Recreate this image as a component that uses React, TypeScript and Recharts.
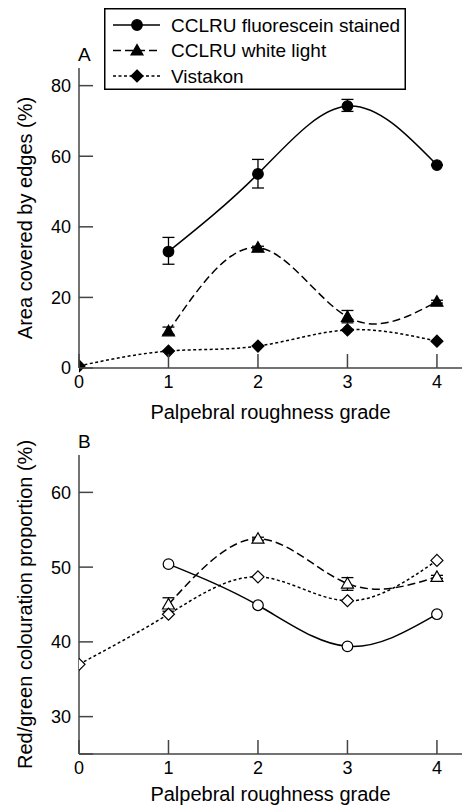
import { LineChart, Line, XAxis, YAxis, ErrorBar, Legend, Label, Customized } from "recharts"

const grades = [0, 1, 2, 3, 4]
const gradeTicks = [0, 1, 2, 3, 4]

// panel A: area covered by edges (%)
const areaFluor = [null, 33.0, 55.0, 74.2, 57.5]
const areaFluorErr = [null, [3.6, 4.0], [4.0, 4.1], [1.5, 1.9], [0, 0]]
const areaWhite = [null, 10.4, 34.1, 14.5, 18.8]
const areaWhiteErr = [null, [0.9, 1.2], [0.4, 0.4], [1.7, 1.8], [0.4, 0.4]]
const areaVista = [0.6, 4.8, 6.2, 10.8, 7.6]
const areaTicks = [0, 20, 40, 60, 80]

// panel B: red/green colouration proportion (%)
const rgFluor = [null, 50.4, 44.9, 39.4, 43.7]
const rgWhite = [null, 45.0, 53.8, 47.8, 48.7]
const rgWhiteErr = [null, [0.9, 0.9], [0.2, 0.2], [0.9, 0.8], [0.2, 0.2]]
const rgVista = [37.0, 43.7, 48.7, 45.5, 50.9]
const rgTicks = [25, 30, 40, 50, 60]

const seriesNames = ["CCLRU fluorescein stained", "CCLRU white light", "Vistakon"]

const dataA = grades.map((g, i) => ({
  grade: g,
  fluor: areaFluor[i],
  fluorErr: areaFluorErr[i],
  white: areaWhite[i],
  whiteErr: areaWhiteErr[i],
  vista: areaVista[i],
}))

const dataB = grades.map((g, i) => ({
  grade: g,
  fluor: rgFluor[i],
  white: rgWhite[i],
  whiteErr: rgWhiteErr[i],
  vista: rgVista[i],
}))

const FONT = "'Liberation Sans', Arial, sans-serif"
const AXIS = "#444"
const INK = "#000"
const DASH = { solid: undefined, dashed: "8 4", dotted: "3 2.5" }

function Marker({ cx, cy, shape, filled }: any) {
  if (cx == null || cy == null) return null
  const fill = filled ? INK : "#fff"
  if (shape === "circle") {
    return <circle cx={cx} cy={cy} r={5.3} fill={fill} stroke={INK} strokeWidth={1.2} />
  }
  if (shape === "triangle") {
    const s = 6
    return (
      <polygon
        points={`${cx},${cy - s} ${cx - s},${cy + s * 0.75} ${cx + s},${cy + s * 0.75}`}
        fill={fill}
        stroke={INK}
        strokeWidth={1.2}
      />
    )
  }
  const d = 6
  return (
    <polygon
      points={`${cx},${cy - d} ${cx + d},${cy} ${cx},${cy + d} ${cx - d},${cy}`}
      fill={fill}
      stroke={INK}
      strokeWidth={1.2}
    />
  )
}

const dotFor = (shape: string, filled: boolean) => (p: any) =>
  <Marker key={`${shape}-${p.index}`} cx={p.cx} cy={p.cy} shape={shape} filled={filled} />

const YTick = (props: any) => {
  const { x, y, payload, hideVal } = props
  return (
    <g>
      <line x1={x} x2={x + 14} y1={y} y2={y} stroke={AXIS} strokeWidth={1.5} />
      {payload.value !== hideVal && (
        <text x={x - 8} y={y} dy="0.36em" textAnchor="end" fontSize={18} fontFamily={FONT} fill={INK}>
          {payload.value}
        </text>
      )}
    </g>
  )
}

const XTick = (props: any) => {
  const { x, y, payload } = props
  return (
    <g>
      <line x1={x} x2={x} y1={y} y2={y - 14} stroke={AXIS} strokeWidth={1.5} />
      <text x={x} y={y + 20} textAnchor="middle" fontSize={18} fontFamily={FONT} fill={INK}>
        {payload.value}
      </text>
    </g>
  )
}

function LegendBox() {
  const rows = [
    { name: seriesNames[0], dash: DASH.solid, shape: "circle" },
    { name: seriesNames[1], dash: DASH.dashed, shape: "triangle" },
    { name: seriesNames[2], dash: DASH.dotted, shape: "diamond" },
  ]
  return (
    <svg width={302} height={82} style={{ display: "block" }}>
      <rect x={0.75} y={0.75} width={300.5} height={80.5} fill="#fff" stroke={INK} strokeWidth={1.5} />
      {rows.map((r, i) => {
        const cy = 17 + i * 25.5
        return (
          <g key={r.name}>
            <line x1={9} x2={56} y1={cy} y2={cy} stroke={INK} strokeWidth={1.5} strokeDasharray={r.dash} />
            <Marker cx={33} cy={cy} shape={r.shape} filled />
            <text x={67} y={cy} dy="0.36em" fontSize={19} fontFamily={FONT} fill={INK}>
              {r.name}
            </text>
          </g>
        )
      })}
    </svg>
  )
}

const axisTitle = (text: string) => (
  <Label value={text} position="insideBottom" offset={11} fontSize={20} fontFamily={FONT} fill={INK} />
)

const yTitle = (text: string) => (
  <Label
    value={text}
    position="center"
    angle={-90}
    dx={-15}
    fontSize={20}
    fontFamily={FONT}
    fill={INK}
  />
)

const panelLetter = (letter: string, x: number, y: number) => () =>
  (
    <text x={x} y={y} fontSize={19} fontFamily={FONT} fill={INK}>
      {letter}
    </text>
  )

export default function App() {
  return (
    <div style={{ width: 462, height: 812, background: "#fff", fontFamily: FONT }}>
      <style>{"body{margin:0;background:#fff}"}</style>
      <LineChart width={462} height={430} data={dataA} margin={{ top: 68, right: 0, bottom: 0, left: 0 }}>
        <XAxis
          dataKey="grade"
          type="number"
          domain={[0, 4.28]}
          ticks={gradeTicks}
          allowDataOverflow
          height={62}
          tickSize={0}
          tickMargin={0}
          tickLine={false}
          tick={<XTick />}
          axisLine={{ stroke: AXIS, strokeWidth: 1.5 }}
        >
          {axisTitle("Palpebral roughness grade")}
        </XAxis>
        <YAxis
          type="number"
          domain={[0, 85]}
          ticks={areaTicks}
          width={79}
          tickSize={0}
          tickMargin={0}
          tickLine={false}
          tick={<YTick />}
          axisLine={{ stroke: AXIS, strokeWidth: 1.5 }}
        >
          {yTitle("Area covered by edges (%)")}
        </YAxis>
        <Customized component={panelLetter("A", 78, 61)} />
        <Legend
          layout="vertical"
          verticalAlign="middle"
          align="center"
          wrapperStyle={{ left: 104, top: 8, width: 302, height: 82 }}
          content={() => <LegendBox />}
        />
        <Line
          dataKey="fluor"
          name={seriesNames[0]}
          type="natural"
          stroke={INK}
          strokeWidth={1.5}
          dot={dotFor("circle", true)}
          activeDot={false}
          isAnimationActive={false}
        >
          <ErrorBar dataKey="fluorErr" width={6} stroke={INK} strokeWidth={1.3} direction="y" />
        </Line>
        <Line
          dataKey="white"
          name={seriesNames[1]}
          type="natural"
          stroke={INK}
          strokeWidth={1.5}
          strokeDasharray={DASH.dashed}
          dot={dotFor("triangle", true)}
          activeDot={false}
          isAnimationActive={false}
        >
          <ErrorBar dataKey="whiteErr" width={6} stroke={INK} strokeWidth={1.3} direction="y" />
        </Line>
        <Line
          dataKey="vista"
          name={seriesNames[2]}
          type="natural"
          stroke={INK}
          strokeWidth={1.5}
          strokeDasharray={DASH.dotted}
          dot={dotFor("diamond", true)}
          activeDot={false}
          isAnimationActive={false}
        />
      </LineChart>
      <LineChart width={462} height={382} data={dataB} margin={{ top: 25, right: 0, bottom: 0, left: 0 }}>
        <XAxis
          dataKey="grade"
          type="number"
          domain={[0, 4.28]}
          ticks={gradeTicks}
          allowDataOverflow
          height={58}
          tickSize={0}
          tickMargin={0}
          tickLine={false}
          tick={<XTick />}
          axisLine={{ stroke: AXIS, strokeWidth: 1.5 }}
        >
          {axisTitle("Palpebral roughness grade")}
        </XAxis>
        <YAxis
          type="number"
          domain={[25, 65]}
          ticks={rgTicks}
          width={79}
          tickSize={0}
          tickMargin={0}
          tickLine={false}
          tick={<YTick hideVal={25} />}
          axisLine={{ stroke: AXIS, strokeWidth: 1.5 }}
        >
          {yTitle("Red/green colouration proportion (%)")}
        </YAxis>
        <Customized component={panelLetter("B", 78, 18)} />
        <Line
          dataKey="fluor"
          type="natural"
          stroke={INK}
          strokeWidth={1.5}
          dot={dotFor("circle", false)}
          activeDot={false}
          isAnimationActive={false}
        />
        <Line
          dataKey="white"
          type="natural"
          stroke={INK}
          strokeWidth={1.5}
          strokeDasharray={DASH.dashed}
          dot={dotFor("triangle", false)}
          activeDot={false}
          isAnimationActive={false}
        >
          <ErrorBar dataKey="whiteErr" width={6} stroke={INK} strokeWidth={1.3} direction="y" />
        </Line>
        <Line
          dataKey="vista"
          type="natural"
          stroke={INK}
          strokeWidth={1.5}
          strokeDasharray={DASH.dotted}
          dot={dotFor("diamond", false)}
          activeDot={false}
          isAnimationActive={false}
        />
      </LineChart>
    </div>
  )
}
